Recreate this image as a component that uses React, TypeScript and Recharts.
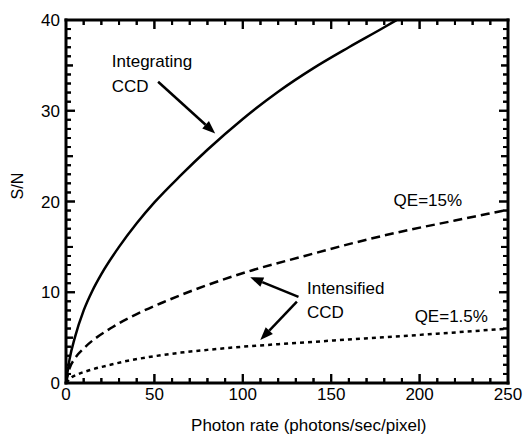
import React from "react";
import { LineChart, Line, XAxis, YAxis, ReferenceLine, ReferenceDot } from "recharts";

// curves (x = photons/sec/pixel, y = S/N)
const integratingCCD = [
  { x: 0, y: 0 }, { x: 2, y: 2.6 }, { x: 5, y: 5.0 }, { x: 10, y: 8.0 }, { x: 15, y: 10.2 },
  { x: 20, y: 12.0 }, { x: 30, y: 15.0 }, { x: 40, y: 17.6 }, { x: 50, y: 19.9 },
  { x: 65, y: 22.9 }, { x: 80, y: 25.7 }, { x: 100, y: 29.1 }, { x: 120, y: 32.1 },
  { x: 140, y: 34.7 }, { x: 160, y: 37.0 }, { x: 180, y: 39.2 }, { x: 187, y: 40.0 },
];
const intensified15 = [
  { x: 0, y: 0 }, { x: 2, y: 1.6 }, { x: 5, y: 2.7 }, { x: 10, y: 3.8 }, { x: 25, y: 6.0 },
  { x: 40, y: 7.6 }, { x: 55, y: 8.9 }, { x: 80, y: 10.8 }, { x: 105, y: 12.4 },
  { x: 135, y: 14.0 }, { x: 160, y: 15.3 }, { x: 190, y: 16.7 }, { x: 220, y: 17.9 },
  { x: 250, y: 19.1 },
];
const intensified1_5 = [
  { x: 0, y: 0 }, { x: 3, y: 0.6 }, { x: 6, y: 0.9 }, { x: 14, y: 1.45 }, { x: 25, y: 2.0 },
  { x: 35, y: 2.45 }, { x: 50, y: 2.95 }, { x: 65, y: 3.35 }, { x: 80, y: 3.65 },
  { x: 100, y: 4.0 }, { x: 130, y: 4.4 }, { x: 160, y: 4.8 }, { x: 200, y: 5.3 },
  { x: 250, y: 6.0 },
];

const xMajor = [0, 50, 100, 150, 200, 250];
const yMajor = [0, 10, 20, 30, 40];
const yMid = [5, 15, 25, 35];
const xTicks = Array.from({ length: 26 }, (_, i) => i * 10);
const yTicks = Array.from({ length: 41 }, (_, i) => i);

const notes = [
  { x: 25.9, y: 34.8, text: "Integrating" },
  { x: 25.9, y: 32.07, text: "CCD" },
  { x: 136.3, y: 9.84, text: "Intensified" },
  { x: 136.3, y: 7.16, text: "CCD" },
  { x: 185.3, y: 19.5, text: "QE=15%" },
  { x: 197.2, y: 6.75, text: "QE=1.5%" },
];
const arrows = [
  { from: { x: 52.1, y: 33.2 }, to: { x: 84.4, y: 27.5 } },
  { from: { x: 131.5, y: 9.5 }, to: { x: 104.2, y: 11.65 } },
  { from: { x: 130.6, y: 8.96 }, to: { x: 109.9, y: 4.74 } },
];
const xTitle = { x: 137.3, y: -5.29, text: "Photon rate (photons/sec/pixel)" };
const yTitle = { x: -27.5, y: 21.7, text: "S/N" };

const FONT = "'Liberation Sans', Arial, Helvetica, sans-serif";

const tickLen = (v: number, majors: number[], mids: number[]) =>
  majors.includes(v) ? 9 : mids.includes(v) ? 7 : 5;

// inward tick marks drawn by each axis
function makeTick(side: string) {
  return (props: any) => {
    const x = Number(props.x), y = Number(props.y);
    const v = props.payload.value;
    const L = side === "bottom" || side === "top" ? tickLen(v, xMajor, []) : tickLen(v, yMajor, yMid);
    let x2 = x, y2 = y;
    if (side === "bottom") y2 = y - L;
    else if (side === "top") y2 = y + L;
    else if (side === "left") x2 = x + L;
    else x2 = x - L;
    return (
      <g>
        <path d={`M${x},${y}L${x2},${y2}`} stroke="#000" strokeWidth={2} />
      </g>
    );
  };
}

// same ticks again from the plot corners of a diagonal segment
const FrameTicks = (p: any) => {
  const { x1, y1, x2, y2 } = p;
  let d = "";
  xTicks.forEach((v) => {
    const px = x1 + (v / 250) * (x2 - x1);
    const L = tickLen(v, xMajor, []);
    d += `M${px},${y1}L${px},${y1 - L}M${px},${y2}L${px},${y2 + L}`;
  });
  yTicks.forEach((v) => {
    const py = y1 + (v / 40) * (y2 - y1);
    const L = tickLen(v, yMajor, yMid);
    d += `M${x1},${py}L${x1 + L},${py}M${x2},${py}L${x2 - L},${py}`;
  });
  return <path d={d} stroke="#000" strokeWidth={2} />;
};

const Arrow = (p: any) => {
  const { x1, y1, x2, y2 } = p;
  const ang = Math.atan2(y2 - y1, x2 - x1);
  const L = 13, W = 5;
  const bx = x2 - L * Math.cos(ang), by = y2 - L * Math.sin(ang);
  const px = -Math.sin(ang) * W, py = Math.cos(ang) * W;
  return (
    <g>
      <line x1={x1} y1={y1} x2={bx} y2={by} stroke="#000" strokeWidth={2.5} />
      <polygon points={`${x2},${y2} ${bx + px},${by + py} ${bx - px},${by - py}`} fill="#000" />
    </g>
  );
};

const axisLine = { stroke: "#000", strokeWidth: 3, strokeLinecap: "square" as const };

export default function App() {
  return (
    <div style={{ position: "absolute", left: 0, top: 0 }}>
      <LineChart width={526} height={437} margin={{ top: 19, right: 17, bottom: 53, left: 26 }}>
        <XAxis xAxisId="b" dataKey="x" type="number" domain={[0, 250]} ticks={xTicks} interval={0}
          height={1} tickSize={0} tickMargin={0} tickLine={false} axisLine={axisLine} tick={makeTick("bottom")} />
        <XAxis xAxisId="t" orientation="top" dataKey="x" type="number" domain={[0, 250]} ticks={xTicks} interval={0}
          height={1} tickSize={0} tickMargin={0} tickLine={false} axisLine={axisLine} tick={makeTick("top")} allowDataOverflow />
        <YAxis yAxisId="l" type="number" domain={[0, 40]} ticks={yTicks} interval={0}
          width={40} tickSize={0} tickMargin={0} tickLine={false} axisLine={axisLine} tick={makeTick("left")} />
        <YAxis yAxisId="r" orientation="right" type="number" domain={[0, 40]} ticks={yTicks} interval={0}
          width={1} tickSize={0} tickMargin={0} tickLine={false} axisLine={axisLine} tick={makeTick("right")} allowDataOverflow />

        <Line xAxisId="b" yAxisId="l" data={integratingCCD} dataKey="y" type="monotone" stroke="#000"
          strokeWidth={2.5} dot={false} activeDot={false} isAnimationActive={false} />
        <Line xAxisId="b" yAxisId="l" data={intensified15} dataKey="y" type="monotone" stroke="#000"
          strokeWidth={2.5} strokeDasharray="9 5" dot={false} activeDot={false} isAnimationActive={false} />
        <Line xAxisId="b" yAxisId="l" data={intensified1_5} dataKey="y" type="monotone" stroke="#000"
          strokeWidth={2.5} strokeDasharray="4 4" dot={false} activeDot={false} isAnimationActive={false} />

        <ReferenceLine xAxisId="b" yAxisId="l" segment={[{ x: 0, y: 0 }, { x: 250, y: 40 }]}
          shape={FrameTicks} ifOverflow="visible" />
        {arrows.map((a, i) => (
          <ReferenceLine key={"a" + i} xAxisId="b" yAxisId="l" segment={[a.from, a.to]} shape={Arrow} ifOverflow="visible" />
        ))}

        {xMajor.map((v) => (
          <ReferenceDot key={"xl" + v} xAxisId="b" yAxisId="l" x={v} y={0} r={0} ifOverflow="visible"
            shape={(p: any) => (
              <text x={p.cx} y={p.cy + 5} dy="0.71em" textAnchor="middle" fontSize={17} fontFamily={FONT} fill="#000">{v}</text>
            )} />
        ))}
        {yMajor.map((v) => (
          <ReferenceDot key={"yl" + v} xAxisId="b" yAxisId="l" x={0} y={v} r={0} ifOverflow="visible"
            shape={(p: any) => (
              <text x={p.cx - 6} y={p.cy} dy="0.36em" textAnchor="end" fontSize={17} fontFamily={FONT} fill="#000">{v}</text>
            )} />
        ))}
        <ReferenceDot xAxisId="b" yAxisId="l" x={xTitle.x} y={xTitle.y} r={0} ifOverflow="visible"
          shape={(p: any) => (
            <text x={p.cx} y={p.cy} textAnchor="middle" fontSize={17} fontFamily={FONT} fill="#000">{xTitle.text}</text>
          )} />
        <ReferenceDot xAxisId="b" yAxisId="l" x={yTitle.x} y={yTitle.y} r={0} ifOverflow="visible"
          shape={(p: any) => (
            <text x={p.cx} y={p.cy} dy="0.36em" transform={`rotate(-90 ${p.cx} ${p.cy})`} textAnchor="middle"
              fontSize={16} fontFamily={FONT} fill="#000">{yTitle.text}</text>
          )} />
        {notes.map((n, i) => (
          <ReferenceDot key={"n" + i} xAxisId="b" yAxisId="l" x={n.x} y={n.y} r={0} ifOverflow="visible"
            shape={(p: any) => (
              <text x={p.cx} y={p.cy} fontSize={17} fontFamily={FONT} fill="#000">{n.text}</text>
            )} />
        ))}
      </LineChart>
    </div>
  );
}
